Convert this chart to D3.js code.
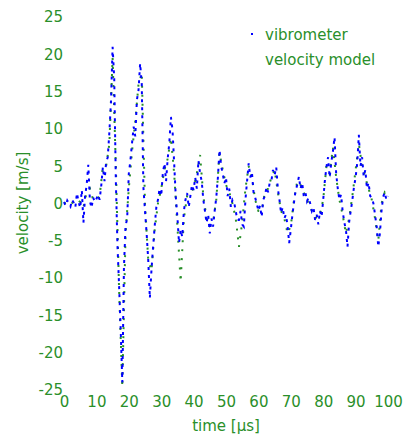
<!DOCTYPE html>
<html>
<head>
<meta charset="utf-8">
<script src="https://cdn.jsdelivr.net/npm/d3@7"></script>
<style>
  body { margin: 0; background: #fff; }
  .axis text, .label, .legend text { font-family: "DejaVu Sans", sans-serif; font-size: 15px; fill: #2a8f2a; }
  .axis .domain { display: none; }
</style>
</head>
<body>
<script>
(function(){

  //vibrometer samples, one every 0.5 us from 0 to 100 us
  var vibStep = 0.5;
  var vibValues = [
    0.2, -0.3, 0.4, 0.0, -0.4, 0.5, 0.1, -0.5, 1.4, 0.2,
    -0.6, 1.8, -2.6, 1.0, 2.5, 5.2, 0.3, -0.6, 0.8, 0.2,
    0.6, 1.2, 0.5, 2.4, 4.9, 3.0, 5.5, 6.2, 9.5, 13.6,
    21.0, 16.8, 3.0, -5.6, -11.0, -17.0, -24.0, -8.6, -3.0, -2.0,
    4.0, 5.8, 8.1, 10.3, 9.0, 13.9, 15.2, 18.8, 16.0, 2.2,
    -1.0, -4.0, -7.6, -12.7, -8.9, -5.8, -3.0, -0.5, 0.5, 2.0,
    1.0, 4.0, 5.4, 3.0, 6.0, 8.1, 11.6, 9.8, 5.4, 0.9,
    -1.8, -5.3, -3.5, -4.5, -1.0, 0.5, 1.4, -0.5, 1.0, 2.5,
    1.8, 3.5, 2.0, 5.8, 4.0, 3.0, 0.5, -1.0, -2.6, -1.5,
    -4.0, -2.0, -3.1, -1.0, 0.8, 3.5, 7.2, 5.0, 4.0, 2.7,
    3.5, 1.0, 2.0, -0.5, 0.5, 0.2, -1.0, -2.2, -2.2, -1.0,
    -2.8, -3.1, 0.5, 3.0, 5.4, 3.5, 4.2, 1.5, 0.8, 0.0,
    -1.0, -0.3, -1.8, 0.5, 1.0, 2.2, 1.5, 2.8, 3.0, 4.5,
    3.8, 4.9, 2.0, 0.5, -1.3, -0.5, -2.0, -1.5, -3.0, -5.3,
    -3.5, -1.5, 0.2, 1.8, 2.5, 3.6, 2.0, 2.8, 1.0, 1.5,
    0.3, 0.8, 0.0, -1.0, -0.5, -2.2, -1.5, -2.8, -1.0, -1.8,
    0.5, 3.0, 4.9, 6.2, 3.5, 5.5, 7.0, 8.9, 4.0, 2.0,
    0.5, 1.2, -1.0, -2.5, -3.5, -5.8, -2.5, -1.0, 0.5, 2.2,
    3.5, 5.4, 9.2, 5.0, 6.2, 3.6, 4.5, 2.0, 2.8, 1.0,
    0.8, 0.0, -1.5, -3.1, -5.8, -4.0, -1.0, 0.9, 1.5, 0.5,
    1.0
  ];

  //velocity model samples, one every 1 us from 0 to 100 us
  var modelStep = 1;
  var modelValues = [
    0.0, 0.1, -0.2, 0.3, 0.5, 0.2, -0.5, 1.5, 2.0, 0.5,
    0.5, 1.0, 4.9, 5.0, 8.0, 19.5, 5.0, -11.5, -24.6, -4.0,
    2.0, 7.0, 11.0, 16.0, 17.5, 0.0, -7.6, -9.0, -3.5, 0.0,
    2.0, 4.5, 6.0, 8.8, 4.0, -3.0, -10.5, -2.0, 1.0, 1.5,
    2.0, 4.0, 6.5, 1.0, -2.0, -3.0, -2.5, 0.5, 6.8, 4.5,
    2.5, 1.5, 0.0, -2.0, -5.8, -2.5, 2.0, 5.0, 3.5, 0.5,
    -1.0, -1.0, 1.5, 2.0, 3.5, 4.5, 1.5, -1.0, -2.0, -4.0,
    -3.0, 0.5, 3.0, 2.5, 1.5, 0.5, -0.5, -1.5, -2.0, -1.5,
    0.5, 5.0, 4.0, 7.5, 3.5, 0.5, -1.5, -4.0, -2.0, 1.0,
    4.5, 8.0, 5.0, 3.5, 2.0, 0.5, -2.0, -5.0, 0.0, 1.5,
    1.0
  ];

  var xTicks = [0, 10, 20, 30, 40, 50, 60, 70, 80, 90, 100];
  var yTicks = [25, 20, 15, 10, 5, 0, -5, -10, -15, -20, -25];
  var seriesNames = ["vibrometer", "velocity model"];
  var seriesColors = ["#0000ff", "#2a8f2a"];

  var width = 403,
      height = 437;

  var svg = d3.select("body")
      .append("svg")
      .attr("width", width)
      .attr("height", height);

  //scales
  var x = d3.scaleLinear()
      .domain([0, 100])
      .range([64, 388]);

  var y = d3.scaleLinear()
      .domain([-25, 25])
      .range([390, 17]);

  //axes, no domain line, tick labels only
  svg.append("g")
      .attr("class", "axis")
      .attr("transform", "translate(0,396)")
      .call(d3.axisBottom(x).tickValues(xTicks).tickSize(0).tickPadding(0));

  svg.append("g")
      .attr("class", "axis")
      .attr("transform", "translate(63,0)")
      .call(d3.axisLeft(y).tickValues(yTicks).tickSize(0).tickPadding(0)
          .tickFormat(function(d){ return d < 0 ? "-" + Math.abs(d) : d; }));

  //axis labels
  svg.append("text")
      .attr("class", "label")
      .attr("x", 226)
      .attr("y", 431)
      .attr("text-anchor", "middle")
      .text("time [μs]");

  svg.append("text")
      .attr("class", "label")
      .attr("transform", "translate(28,203) rotate(-90)")
      .attr("text-anchor", "middle")
      .text("velocity [m/s]");

  //lines
  var modelLine = d3.line()
      .x(function(d, i){ return x(i * modelStep); })
      .y(function(d){ return y(d); });

  var vibLine = d3.line()
      .x(function(d, i){ return x(i * vibStep); })
      .y(function(d){ return y(d); });

  svg.append("path")
      .datum(modelValues)
      .attr("fill", "none")
      .attr("stroke", seriesColors[1])
      .attr("stroke-width", 2)
      .attr("stroke-dasharray", "2,7")
      .attr("d", modelLine);

  svg.append("path")
      .datum(vibValues)
      .attr("fill", "none")
      .attr("stroke", seriesColors[0])
      .attr("stroke-width", 2)
      .attr("stroke-dasharray", "3,5")
      .attr("d", vibLine);

  //legend
  var legend = svg.append("g")
      .attr("class", "legend")
      .attr("transform", "translate(250,35)");

  var items = legend.selectAll("g")
      .data(seriesNames)
      .enter()
      .append("g")
      .attr("transform", function(d, i){ return "translate(0," + (i * 25) + ")"; });

  items.filter(function(d, i){ return i == 0; })
      .append("line")
      .attr("x1", 1)
      .attr("x2", 3)
      .attr("y1", -1)
      .attr("y2", -1)
      .attr("stroke", seriesColors[0])
      .attr("stroke-width", 2);

  items.append("text")
      .attr("x", 15)
      .attr("dy", "0.32em")
      .text(function(d){ return d; });

})();
</script>
</body>
</html>
